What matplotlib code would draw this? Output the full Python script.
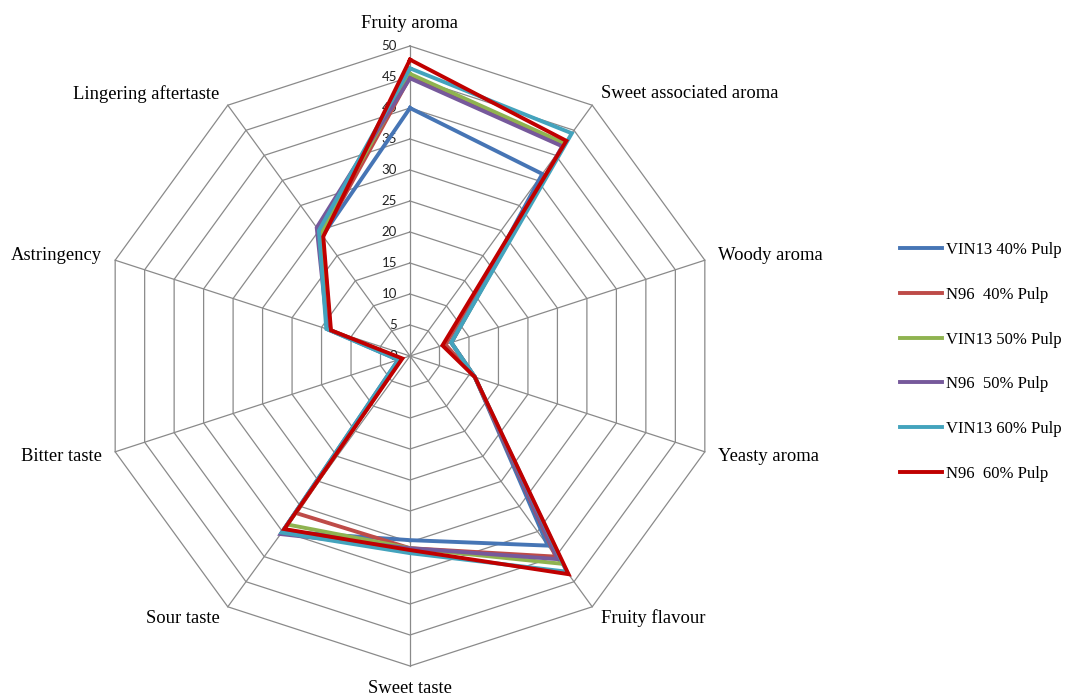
import numpy as np
import matplotlib.pyplot as plt

# sensory attributes, clockwise from the top
categories = ['Fruity aroma', 'Sweet associated aroma', 'Woody aroma', 'Yeasty aroma',
              'Fruity flavour', 'Sweet taste', 'Sour taste', 'Bitter taste',
              'Astringency', 'Lingering aftertaste']

vin13_40 = [40.0, 36.3, 7.0, 11.0, 37.8, 29.7, 35.0, 2.0, 14.0, 24.0]
n96_40 = [45.0, 42.0, 6.0, 11.0, 40.0, 31.0, 31.3, 1.5, 13.5, 24.0]
vin13_50 = [45.5, 42.4, 7.0, 11.0, 41.4, 31.0, 33.6, 1.5, 13.5, 24.5]
n96_50 = [44.8, 41.8, 7.0, 11.0, 40.5, 31.0, 35.5, 1.5, 14.0, 25.6]
vin13_60 = [46.4, 44.4, 7.0, 11.0, 43.0, 31.8, 35.2, 2.0, 14.2, 25.0]
n96_60 = [47.8, 42.9, 5.5, 11.0, 43.5, 31.3, 34.5, 1.3, 13.4, 23.8]

series_names = ['VIN13 40% Pulp', 'N96  40% Pulp', 'VIN13 50% Pulp',
                'N96  50% Pulp', 'VIN13 60% Pulp', 'N96  60% Pulp']
series = [vin13_40, n96_40, vin13_50, n96_50, vin13_60, n96_60]
colors = ['#4675B5', '#BE4B48', '#8FB350', '#76599B', '#43A3BD', '#C00000']

ticks = [0, 5, 10, 15, 20, 25, 30, 35, 40, 45, 50]
rmax = 50

W, H = 1067, 698
cx, cy = 410, 356          # centre of the radar in pixels
scale = 6.2                # pixels per unit

fig = plt.figure(figsize=(W / 100, H / 100), dpi=100)
ax = fig.add_axes([0, 0, 1, 1])
ax.set_xlim(-cx / scale, (W - cx) / scale)
ax.set_ylim(-(H - cy) / scale, cy / scale)
ax.axis('off')

n = len(categories)
ang = np.pi / 2 - np.arange(n) * 2 * np.pi / n


def xy(vals):
    v = np.asarray(vals, dtype=float)
    x = v * np.cos(ang)
    y = v * np.sin(ang)
    return np.append(x, x[0]), np.append(y, y[0])


grid_c = '#8A8A8A'
for t in ticks[1:]:
    gx, gy = xy([t] * n)
    ax.plot(gx, gy, color=grid_c, lw=0.9, zorder=1)
for a in ang:
    ax.plot([0, rmax * np.cos(a)], [0, rmax * np.sin(a)], color=grid_c, lw=0.9, zorder=1)

for t in ticks:
    ax.text(-2.1, t, str(t), ha='right', va='center', fontsize=9.5,
            family='Lato', color='#222222', zorder=2)

for lab, a in zip(categories, ang):
    r = 52.3
    x, y = r * np.cos(a), r * np.sin(a)
    c = np.cos(a)
    if abs(c) < 0.01:
        ha = 'center'
        va = 'bottom' if np.sin(a) > 0 else 'top'
    else:
        ha = 'left' if c > 0 else 'right'
        va = 'center'
    ax.text(x, y, lab, ha=ha, va=va, fontsize=13.4, family='Liberation Serif')

for name, vals, col in zip(series_names, series, colors):
    px, py = xy(vals)
    ax.plot(px, py, color=col, lw=2.8, label=name, zorder=3,
            solid_joinstyle='miter')

fig.legend(loc='upper left', bbox_to_anchor=(892 / W, 1 - 234 / H), frameon=False,
           prop={'family': 'Liberation Serif', 'size': 12.0},
           handlelength=2.5, handletextpad=0.25, labelspacing=1.72, borderpad=0)

fig.savefig('out.png', dpi=100)
